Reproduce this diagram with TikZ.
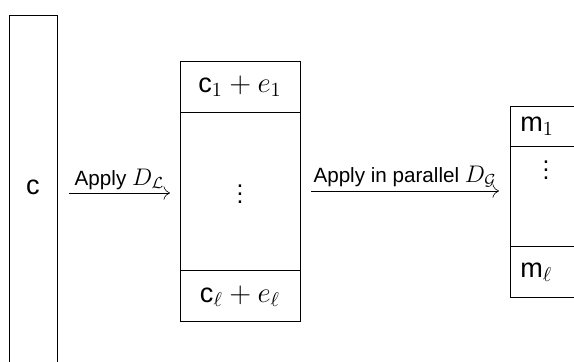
\documentclass[tikz,border=0pt]{standalone}
\usepackage{fontspec}
\setmainfont{Liberation Sans}[Scale=0.86]
\setsansfont{Liberation Sans}[Scale=0.94]
\usetikzlibrary{calc,arrows.meta}
\begin{document}
\begin{tikzpicture}[x=0.5pt,y=-0.5pt,scale=2,every node/.style={transform shape},
  box/.style={draw,line width=0.8pt,inner sep=0pt},
  sep/.style={line width=0.7pt},
  big/.style={font=\Large,inner sep=0pt},
  lab/.style={font=\large, above, inner sep=1.5pt},
  conn/.style={-{To[scale=2.2]}, line width=0.6pt}]
\useasboundingbox (0,0) rectangle (574,362);
\clip (0,0) rectangle (574,362);
% left box
\node[box, minimum width=24pt, minimum height=178pt, anchor=north west] (lbox) at (9,15) {};
\node[big] (c) at (33,187) {$\mathsf{c}$};
% middle box
\node[box, minimum width=60pt, minimum height=130pt, anchor=north west] (mbox) at (180,61) {};
\coordinate (m1l) at (180,112); \coordinate (m1r) at (300,112);
\coordinate (m2l) at (180,270); \coordinate (m2r) at (300,270);
\draw[sep] (m1l) -- (m1r);
\draw[sep] (m2l) -- (m2r);
\node[big] (c1) at (240,86) {$\mathsf{c}_1+e_1$};
\node[big] (vd1) at (240,188) {$\vdots$};
\node[big] (cl) at (240,296) {$\mathsf{c}_\ell+e_\ell$};
% right box
\node[box, minimum width=60pt, minimum height=95.5pt, anchor=north west] (rbox) at (510,106) {};
\coordinate (r1l) at (510,146); \coordinate (r1r) at (630,146);
\coordinate (r2l) at (510,246); \coordinate (r2r) at (630,246);
\draw[sep] (r1l) -- (r1r);
\draw[sep] (r2l) -- (r2r);
\node[big,anchor=west] (m1) at (520,126) {$\mathsf{m}_1$};
\node[big] (vd2) at (546,164) {$\vdots$};
\node[big,anchor=west] (ml) at (520,272) {$\mathsf{m}_\ell$};
% arrows
\coordinate (a1s) at (69,193); \coordinate (a1e) at (170,193);
\coordinate (a2s) at (311,191); \coordinate (a2e) at (499,191);
\draw[conn] (a1s) -- node[lab] {Apply $D_{\mathcal L}$} (a1e);
\draw[conn] (a2s) -- node[lab] {Apply in parallel $D_{\mathcal G}$} (a2e);
\end{tikzpicture}
\end{document}
